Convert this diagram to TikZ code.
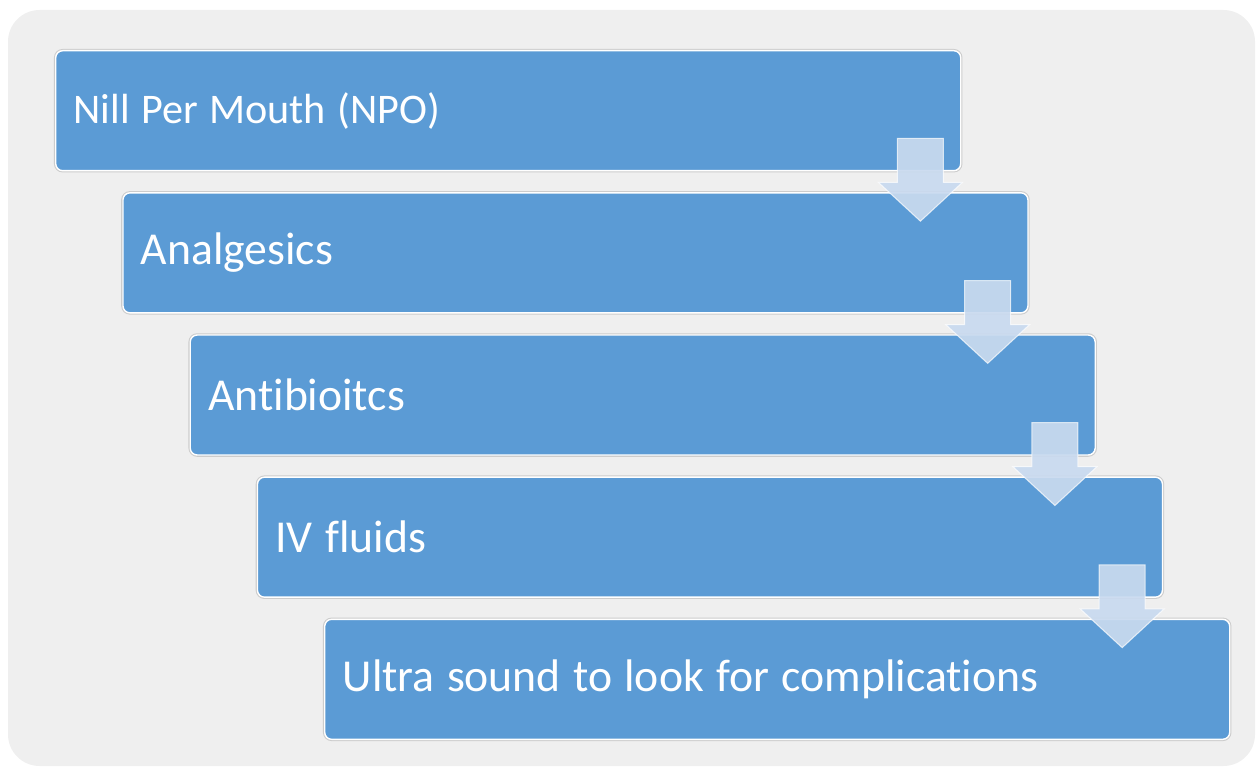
\documentclass[tikz,border=0pt]{standalone}
\usepackage{fontspec}
\setmainfont{Carlito}[Ligatures=NoCommon]
\usetikzlibrary{positioning, calc}
\definecolor{stepblue}{HTML}{5B9BD5}
\definecolor{arrowblue}{HTML}{C9DAEF}
\definecolor{panelgray}{HTML}{EFEFEF}

\begin{document}
\begin{tikzpicture}[
    stepbox/.style={fill=stepblue, draw=white, line width=0.8pt, rounded corners=4pt,
      preaction={draw=gray!40, line width=2pt},
      text width=17.38cm, inner xsep=0.36cm, minimum height=2.4cm, align=left,
      text=white, font=\fontsize{26}{30}\selectfont,
      execute at begin node={\spaceskip=0.27em\relax}},
    downarrow/.style={fill=arrowblue, fill opacity=0.92, draw=white, draw opacity=0.7, line width=0.6pt}
]
    % Panel
    \useasboundingbox (0,0) rectangle (25.12,-15.34);
    \fill[panelgray, rounded corners=18pt] (0.16,-0.2) rectangle (25.1,-15.32);

    % Steps
    \node[stepbox, anchor=north west, font=\fontsize{24}{28}\selectfont] (npo) at (1.1,-1.0) {Nill Per Mouth (NPO)};
    \node[stepbox, below=0.415cm of npo.south west, anchor=north west, xshift=1.345cm] (analg) {Analgesics};
    \node[stepbox, below=0.415cm of analg.south west, anchor=north west, xshift=1.345cm] (abx) {Antibioitcs};
    \node[stepbox, below=0.415cm of abx.south west, anchor=north west, xshift=1.345cm] (ivf) {IV fluids};
    \node[stepbox, below=0.415cm of ivf.south west, anchor=north west, xshift=1.345cm] (usg) {Ultra sound to look for complications};

    % Arrows between steps
    \foreach \a/\b in {npo/analg, analg/abx, abx/ivf, ivf/usg} {
      \draw[downarrow] ($(\a.south east)+(-1.28,0.66)$) -- ++(0.92,0) -- ++(0,-0.88) -- ++(0.38,0)
        -- ($(\b.north east)+(-2.165,-0.58)$) -- ($(\a.south east)+(-1.66,-0.22)$) -- ++(0.38,0) -- cycle;
    }
\end{tikzpicture}
\end{document}
